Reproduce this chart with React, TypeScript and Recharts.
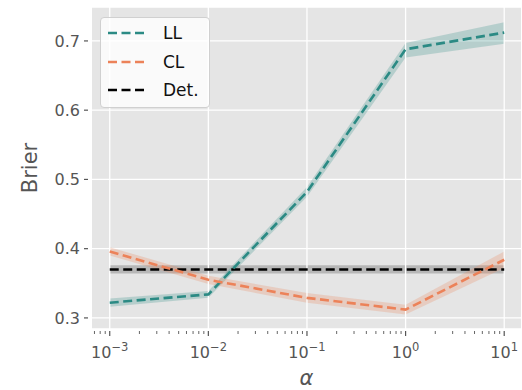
import React from "react";
import {
  ComposedChart,
  Line,
  Area,
  XAxis,
  YAxis,
  CartesianGrid,
  ReferenceLine,
} from "recharts";

const xVals = [0.001, 0.01, 0.1, 1, 10];
const llMean = [0.322, 0.334, 0.482, 0.688, 0.712];
const llLow = [0.316, 0.329, 0.475, 0.676, 0.696];
const llHigh = [0.328, 0.339, 0.489, 0.697, 0.727];
const clMean = [0.396, 0.355, 0.329, 0.312, 0.384];
const clLow = [0.390, 0.349, 0.322, 0.305, 0.372];
const clHigh = [0.402, 0.361, 0.336, 0.319, 0.396];
const detMean = [0.37, 0.37, 0.37, 0.37, 0.37];
const detLow = [0.364, 0.364, 0.364, 0.364, 0.364];
const detHigh = [0.376, 0.376, 0.376, 0.376, 0.376];

const majorXTicks = [0.001, 0.01, 0.1, 1, 10];
const minorXTicks = [
  0.0007, 0.0008, 0.0009,
  0.002, 0.003, 0.004, 0.005, 0.006, 0.007, 0.008, 0.009,
  0.02, 0.03, 0.04, 0.05, 0.06, 0.07, 0.08, 0.09,
  0.2, 0.3, 0.4, 0.5, 0.6, 0.7, 0.8, 0.9,
  2, 3, 4, 5, 6, 7, 8, 9,
];
const yTicks = [0.3, 0.4, 0.5, 0.6, 0.7];
const xDomain = [0.000661, 14.8];
const yDomain = [0.284, 0.749];

const seriesNames = ["LL", "CL", "Det."];
const TEAL = "#2b8a84";
const ORANGE = "#ec8259";
const BLACK = "#000000";
const seriesColors = [TEAL, ORANGE, BLACK];

const data = xVals.map((x, i) => ({
  x,
  ll: llMean[i],
  llBand: [llLow[i], llHigh[i]],
  cl: clMean[i],
  clBand: [clLow[i], clHigh[i]],
  det: detMean[i],
  detBand: [detLow[i], detHigh[i]],
}));

const FONT = "DejaVu Sans";
const TXT = "#555555";

const isMajor = (v: number) => {
  const l = Math.log10(v);
  return Math.abs(l - Math.round(l)) < 1e-6;
};

const XTick = (props: any) => {
  const { x, y, payload } = props;
  const v = payload.value;
  const major = isMajor(v);
  const exp = Math.round(Math.log10(v));
  return (
    <g>
      <line x1={x} x2={x} y1={y + 2} y2={y + (major ? 7 : 5)} stroke={TXT} strokeWidth={major ? 1.2 : 0.9} />
      {major && (
        <text x={x} y={y + 29} textAnchor="middle" fill={TXT} fontSize={16} fontFamily={FONT}>
          10
          <tspan dy={-7} fontSize={11.5}>
            {exp < 0 ? "\u2212" + Math.abs(exp) : String(exp)}
          </tspan>
        </text>
      )}
    </g>
  );
};

const YTick = (props: any) => {
  const { x, y, payload } = props;
  return (
    <g>
      <line x1={x - 8} x2={x - 4} y1={y} y2={y} stroke={TXT} strokeWidth={1.2} />
      <text x={x - 12} y={y} dy="0.36em" textAnchor="end" fill={TXT} fontSize={16} fontFamily={FONT}>
        {payload.value.toFixed(1)}
      </text>
    </g>
  );
};

const LegendBox = () => (
  <div
    style={{
      position: "absolute",
      left: 100,
      top: 17,
      width: 110,
      height: 91,
      boxSizing: "border-box",
      background: "rgba(255,255,255,0.8)",
      border: "1px solid #d0d0d0",
      borderRadius: 4,
      fontFamily: FONT,
    }}
  >
    {seriesNames.map((n, i) => (
      <div key={n} style={{ position: "absolute", left: 6, top: 15 + i * 28.5 - 12, height: 24, display: "flex", alignItems: "center" }}>
        <svg width={42} height={24}>
          <line x1={1} x2={41} y1={12} y2={12} stroke={seriesColors[i]} strokeWidth={2.6} strokeDasharray="9 4.5" />
        </svg>
        <span style={{ marginLeft: 14, fontSize: 17, color: "#111" }}>{n}</span>
      </div>
    ))}
  </div>
);

export default function App() {
  return (
    <div style={{ position: "absolute", left: 0, top: 0, width: 522, height: 390, background: "#fff" }}>
      <ComposedChart width={522} height={390} data={data} margin={{ top: 7, right: 1, bottom: 0, left: 0 }}>
        <CartesianGrid fill="#e5e5e5" stroke="#ffffff" strokeWidth={1.3} vertical={false} />
        {majorXTicks.map((t) => (
          <ReferenceLine key={t} x={t} stroke="#ffffff" strokeWidth={1.3} ifOverflow="hidden" />
        ))}
        <XAxis
          dataKey="x"
          type="number"
          scale="log"
          domain={xDomain}
          ticks={[...majorXTicks, ...minorXTicks]}
          interval={0}
          axisLine={false}
          tickLine={false}
          tickSize={0}
          tickMargin={0}
          height={61}
          tick={<XTick />}
          allowDataOverflow
          label={{
            content: (p: any) => {
              const vb = p.viewBox;
              return (
                <text x={vb.x + vb.width / 2} y={vb.y + 56} textAnchor="middle" fill={TXT} fontSize={21} fontStyle="italic" fontFamily={FONT}>
                  α
                </text>
              );
            },
          }}
        />
        <YAxis
          type="number"
          domain={yDomain}
          ticks={yTicks}
          interval={0}
          axisLine={false}
          tickLine={false}
          tickSize={0}
          tickMargin={0}
          width={92}
          tick={<YTick />}
          allowDataOverflow
          label={{
            content: (p: any) => {
              const vb = p.viewBox;
              const cx = vb.x + 37;
              const cy = vb.y + vb.height / 2;
              return (
                <text x={cx} y={cy} transform={`rotate(-90 ${cx} ${cy})`} textAnchor="middle" fill={TXT} fontSize={21} fontFamily={FONT}>
                  Brier
                </text>
              );
            },
          }}
        />
        <Area type="linear" dataKey="detBand" stroke="none" fill="#000000" fillOpacity={0.2} isAnimationActive={false} />
        <Area type="linear" dataKey="llBand" stroke="none" fill={TEAL} fillOpacity={0.25} isAnimationActive={false} />
        <Area type="linear" dataKey="clBand" stroke="none" fill={ORANGE} fillOpacity={0.25} isAnimationActive={false} />
        <Line type="linear" dataKey="det" stroke={BLACK} strokeWidth={2.6} strokeDasharray="9 4.5" dot={false} isAnimationActive={false} />
        <Line type="linear" dataKey="ll" stroke={TEAL} strokeWidth={2.6} strokeDasharray="9 4.5" dot={false} isAnimationActive={false} />
        <Line type="linear" dataKey="cl" stroke={ORANGE} strokeWidth={2.6} strokeDasharray="9 4.5" dot={false} isAnimationActive={false} />
      </ComposedChart>
      <LegendBox />
    </div>
  );
}
